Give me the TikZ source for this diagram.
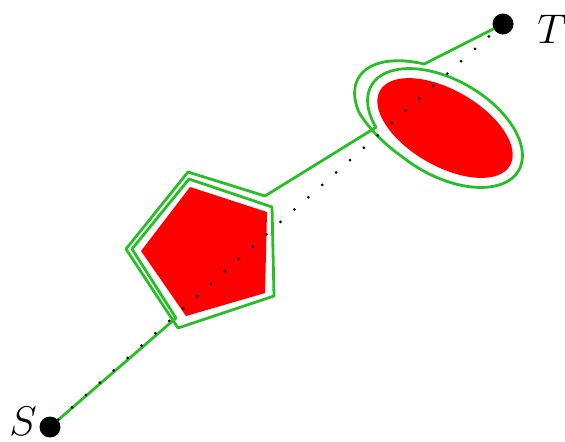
\documentclass[tikz,border=0pt]{standalone}
\usetikzlibrary{positioning}
\definecolor{routegreen}{RGB}{40,190,40}
\tikzset{
  terminal/.style={circle, fill=black, inner sep=0pt, minimum size=10.5pt},
  lbl/.style={inner sep=0pt, font=\fontsize{22}{26}\selectfont},
  route/.style={routegreen, line width=1.4pt, line join=round},
  sightline/.style={line width=1.5pt, line cap=round, dash pattern=on 0pt off 9.3pt},
  % the path winds round the ellipse, then swings wider before leaving
  declare function={
    loops(\t)=min(1,max(0,(\t-465)/40));
    loopa(\t)=85+15*loops(\t);
    loopb(\t)=48+4*loops(\t);
    loopx(\t)=445+loopa(\t)*cos(\t)*cos(30)-loopb(\t)*sin(\t)*sin(30);
    loopy(\t)=128+loopa(\t)*cos(\t)*sin(30)+loopb(\t)*sin(\t)*cos(30);
  },
}
\begin{document}
\begin{tikzpicture}[x=0.5pt, y=-0.5pt, line cap=round]
  \useasboundingbox (0,0) rectangle (565,441);
  % obstacles
  \fill[red] (190,187) -- (267,212) -- (265,293) -- (186,316) -- (141,251) -- cycle;
  \fill[red, rotate around={-30:(445,128)}] (445,128) ellipse [x radius=75, y radius=38];
  % start and target
  \node[terminal] (S) at (50,427) {};
  \node[terminal] (T) at (503,24) {};
  \node[lbl, left=1pt of S, yshift=3pt] (Slab) {$S$};
  \node[lbl, right=11.5pt of T, yshift=-2.5pt] (Tlab) {$T$};
  % corners of the path wound round the pentagon
  \coordinate (p0) at (176,318);
  \coordinate (p1) at (132,249);
  \coordinate (p2) at (189,179);
  \coordinate (p3) at (272,207);
  \coordinate (p4) at (274,296);
  \coordinate (p5) at (178,328);
  \coordinate (p6) at (126,249);
  \coordinate (p7) at (188,172);
  \coordinate (p8) at (265,196);
  \draw[route] (S) -- (p0) -- (p1) -- (p2) -- (p3) -- (p4) -- (p5) -- (p6) -- (p7) -- (p8)
    -- plot[domain=135:600, samples=140, variable=\t] ({loopx(\t)}, {loopy(\t)}) -- (T);
  % straight line of sight
  \draw[sightline] (S) -- (T);
\end{tikzpicture}
\end{document}
